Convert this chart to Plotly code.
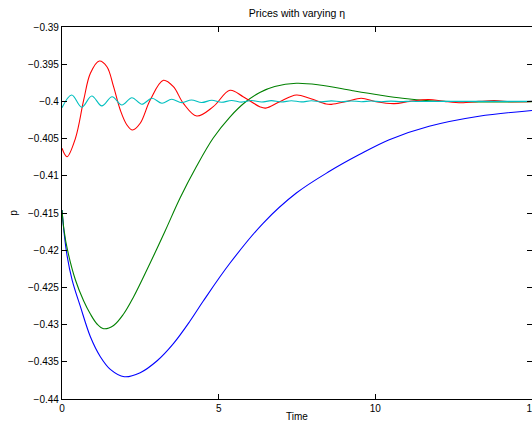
import plotly.graph_objects as go

# ---- data ----
blue_t = [0, 0.064, 0.159, 0.324, 0.588, 0.906, 1.224, 1.542, 1.987, 2.496, 3.027, 3.555,
          4.086, 4.509, 5.358, 6.417, 7.479, 8.537, 9.49, 10.445, 11.717, 13.307, 15.0]
blue_p = [-0.41460, -0.41755, -0.42065, -0.42401, -0.42759, -0.43163, -0.43431, -0.43601,
          -0.43700, -0.43646, -0.43489, -0.43255, -0.42952, -0.42683, -0.42176, -0.41638,
          -0.41232, -0.40940, -0.40715, -0.40515, -0.40335, -0.40200, -0.40122]

green_t = [0, 0.064, 0.175, 0.429, 0.693, 0.906, 1.119, 1.329, 1.647, 1.965, 2.283, 2.814,
           3.291, 3.768, 4.299, 4.827, 5.358, 5.835, 6.312, 6.789, 7.479, 8.219, 9.278,
           10.127, 10.868, 11.717, 12.766, 15.0]
green_p = [-0.41460, -0.41728, -0.41997, -0.42401, -0.42683, -0.42858, -0.42992, -0.43055,
           -0.43012, -0.42858, -0.42629, -0.42172, -0.41742, -0.41298, -0.40868, -0.40492,
           -0.40210, -0.40015, -0.39880, -0.39800, -0.39757, -0.39780, -0.39856, -0.39914,
           -0.39958, -0.39991, -0.40004, -0.40005]

red_t = [0, 0.16, 0.429, 0.693, 0.906, 1.19, 1.434, 1.646, 1.860, 2.073, 2.25, 2.496, 2.814,
         3.237, 3.555, 3.873, 4.30, 4.827, 5.36, 5.78, 6.31, 6.50, 6.95, 7.48, 7.90, 8.43,
         8.60, 9.10, 9.55, 10.02, 10.60, 11.10, 11.70, 12.20, 12.75, 13.30, 13.80, 14.4, 15.0]
red_p = [-0.40630, -0.40743, -0.40496, -0.39981, -0.39622, -0.39457, -0.39534, -0.39802,
         -0.40116, -0.40317, -0.40384, -0.40294, -0.39981, -0.39716, -0.39802, -0.40026,
         -0.40196, -0.40071, -0.39851, -0.39937, -0.40071, -0.40090, -0.40004, -0.39914,
         -0.39958, -0.40035, -0.40040, -0.40000, -0.39958, -0.40004, -0.40030, -0.40000,
         -0.39975, -0.40000, -0.40018, -0.40000, -0.39990, -0.40005, -0.40000]

cyan_t = [0, 0.31, 0.63, 0.95, 1.27, 1.60, 1.91, 2.23, 2.55, 2.87, 3.19, 3.50, 3.82, 4.13,
          4.46, 4.78, 5.09, 5.41, 5.73, 6.05, 6.37, 6.68, 7.00, 7.32, 7.64, 7.96, 8.28,
          8.59, 8.91, 9.23, 9.55, 9.87, 10.19, 10.50, 10.82, 11.14, 11.46, 12.0, 15.0]
cyan_p = [-0.40085, -0.39914, -0.40078, -0.39927, -0.40060, -0.39937, -0.40048, -0.39950,
          -0.40038, -0.39958, -0.40025, -0.39972, -0.40017, -0.39981, -0.40015, -0.39984,
          -0.40012, -0.39987, -0.40010, -0.39988, -0.40009, -0.39990, -0.40008, -0.39991,
          -0.40007, -0.39992, -0.40006, -0.39993, -0.40005, -0.39994, -0.40004, -0.39995,
          -0.40004, -0.39996, -0.40003, -0.39997, -0.40002, -0.40000, -0.40000]

x_ticks = [0, 5, 10, 15]
y_ticks = [-0.39, -0.395, -0.4, -0.405, -0.41, -0.415, -0.42, -0.425, -0.43, -0.435, -0.44]
y_ticktext = ["\u22120.39", "\u22120.395", "\u22120.4", "\u22120.405", "\u22120.41", "\u22120.415",
              "\u22120.42", "\u22120.425", "\u22120.43", "\u22120.435", "\u22120.44"]

FONT = "Liberation Sans, Arial, Helvetica, sans-serif"

fig = go.Figure()
series = [
    (blue_t, blue_p, "rgb(0,0,255)"),
    (green_t, green_p, "rgb(0,128,0)"),
    (red_t, red_p, "rgb(255,0,0)"),
    (cyan_t, cyan_p, "rgb(0,191,191)"),
]
for t, p, c in series:
    fig.add_trace(go.Scatter(x=t, y=p, mode="lines",
                             line=dict(color=c, width=1.1, shape="spline", smoothing=1.0),
                             showlegend=False, hoverinfo="skip"))

fig.update_layout(
    width=532, height=423,
    margin=dict(l=62, r=0, t=27, b=24, autoexpand=False),
    paper_bgcolor="white", plot_bgcolor="white",
    font=dict(family=FONT, size=10, color="black"),
    title=dict(text="Prices with varying \u03b7", x=0.5, xref="paper", xanchor="center",
               y=1 - 13 / 423, yref="container", yanchor="middle",
               font=dict(family=FONT, size=10.5, color="black")),
    annotations=[dict(text="Time", xref="paper", yref="paper", x=0.5, y=-17.5 / 372,
                      xanchor="center", yanchor="middle", showarrow=False,
                      font=dict(family=FONT, size=10, color="black"))],
)
fig.update_xaxes(range=[0, 15], tickvals=x_ticks, ticktext=[str(v) for v in x_ticks],
                 ticks="inside", ticklen=5, tickwidth=1, tickcolor="black",
                 showline=True, linecolor="black", linewidth=1.2, mirror="ticks",
                 showgrid=False, zeroline=False, automargin=False,
                 ticklabeloverflow="allow")
fig.update_yaxes(range=[-0.44, -0.39], tickvals=y_ticks, ticktext=y_ticktext,
                 ticks="inside", ticklen=5, tickwidth=1, tickcolor="black",
                 showline=True, linecolor="black", linewidth=1.2, mirror="ticks",
                 showgrid=False, zeroline=False, automargin=False,
                 title=dict(text="p", standoff=8, font=dict(size=10)))

fig.write_html("out.html", config={"responsive": False, "displayModeBar": False})
